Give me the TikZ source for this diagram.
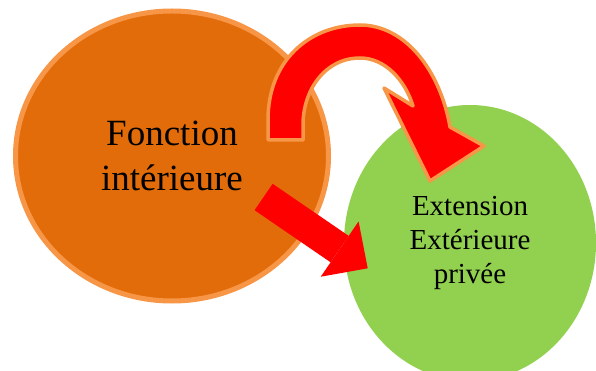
\documentclass[tikz,border=0pt]{standalone}
\usepackage{fontspec}
\setmainfont{Liberation Serif}
\usetikzlibrary{shapes.geometric,arrows.meta}
\definecolor{fondorange}{HTML}{E36C0A}
\definecolor{bordorange}{HTML}{F79646}
\definecolor{vertclair}{HTML}{92D050}

\begin{document}
\begin{tikzpicture}[x=1pt,y=-1pt,
  bulle/.style={ellipse,inner sep=0pt,align=center},
  fleche/.style={fill=red,draw=bordorange,line width=3.5pt,line join=round}]
\useasboundingbox (0,0) rectangle (596,371);
\node[bulle,fill=fondorange,draw=bordorange,line width=5pt,
  minimum width=313pt,minimum height=290pt,
  font=\fontsize{37}{45}\selectfont] (interieur) at (172,156) {Fonction\\intérieure};
\node[bulle,fill=vertclair,minimum width=252pt,minimum height=276pt,
  font=\fontsize{29}{34}\selectfont] (exterieur) at (470,243) {Extension\\Extérieure\\privée};
% fleche courbe
\draw[fleche] (268,140) -- (268,120)
  .. controls (268,60) and (310,25) .. (360,25)
  .. controls (405,25) and (440,70) .. (450,127)
  -- (484,146) -- (430,181) -- (384,88) -- (413,106)
  .. controls (405,80) and (385,58) .. (360,58)
  .. controls (325,58) and (303,90) .. (303,125)
  -- (303,140) -- cycle;
% fleche droite
\coordinate (queue) at (263.6,197);
\coordinate (pointe) at (367.7,268.3);
\draw[red,line width=32pt,-{Triangle[length=34pt,width=67pt,line width=0pt]}] (queue) -- (pointe);
\end{tikzpicture}
\end{document}
